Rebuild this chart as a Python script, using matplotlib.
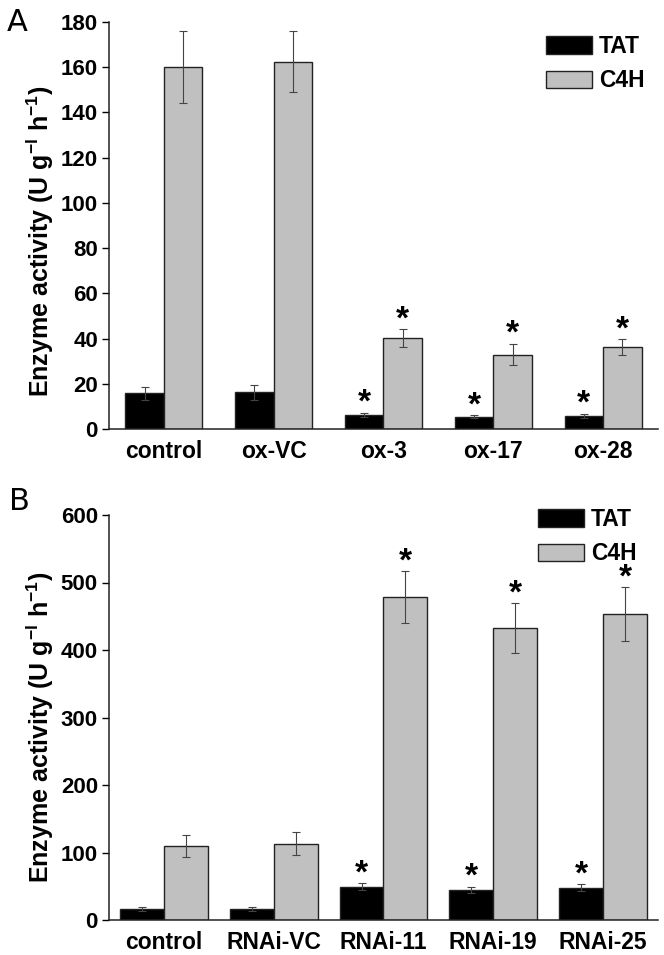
import matplotlib
matplotlib.use("Agg")
import matplotlib.pyplot as plt
import numpy as np

# ---------------------------------------------------------------------------
# Data
# ---------------------------------------------------------------------------
groups_a = ["control", "ox-VC", "ox-3", "ox-17", "ox-28"]
tat_a = [15.8, 16.2, 6.3, 5.5, 5.9]
tat_a_err = [2.9, 3.3, 0.9, 0.5, 0.9]
c4h_a = [160.2, 162.5, 40.1, 32.9, 36.4]
c4h_a_err = [16.0, 13.3, 4.0, 4.8, 3.5]
sig_a = [False, False, True, True, True]

groups_b = ["control", "RNAi-VC", "RNAi-11", "RNAi-19", "RNAi-25"]
tat_b = [15.8, 16.3, 49.4, 44.4, 47.9]
tat_b_err = [3.0, 3.0, 5.0, 5.0, 5.4]
c4h_b = [109.6, 113.0, 478.5, 432.6, 453.3]
c4h_b_err = [16.0, 17.0, 38.0, 37.0, 40.0]
sig_b = [False, False, True, True, True]

FONT = "Liberation Sans"
plt.rcParams["mathtext.fontset"] = "custom"
plt.rcParams["mathtext.rm"] = FONT
plt.rcParams["mathtext.bf"] = FONT + ":bold"

GRAY = "#c0c0c0"
EDGE = "#222222"
ERR = "#444444"
W, H = 664, 955   # figure size in px, used to place things like the reference


def draw_panel(fig, ax, groups, tat, tat_err, c4h, c4h_err, sig, width, ymax,
               step, letter, letter_xy, leg_xy, ylab_y):
    x = np.arange(len(groups))
    ax.bar(x - width / 2, tat, width, color="black", edgecolor=EDGE, lw=1.0,
           label="TAT", zorder=2)
    ax.bar(x + width / 2, c4h, width, color=GRAY, edgecolor=EDGE, lw=1.0,
           label="C4H", zorder=2)
    ax.errorbar(x - width / 2, tat, yerr=tat_err, fmt="none", ecolor=ERR,
                elinewidth=0.8, capsize=3, capthick=0.8, zorder=3)
    ax.errorbar(x + width / 2, c4h, yerr=c4h_err, fmt="none", ecolor=ERR,
                elinewidth=0.8, capsize=3, capthick=0.8, zorder=3)

    # significance stars above the error bars
    for i, s in enumerate(sig):
        if not s:
            continue
        for xx, top in ((x[i] - width / 2, tat[i] + tat_err[i]),
                        (x[i] + width / 2, c4h[i] + c4h_err[i])):
            ax.annotate("*", (xx, top), xytext=(0, 0.5), textcoords="offset points",
                        ha="center", va="baseline", fontsize=24,
                        fontweight="bold", family=FONT)

    ax.set_xlim(-0.5, len(groups) - 0.5)
    ax.set_ylim(0, ymax)
    ax.set_yticks(np.arange(0, ymax + 1, step))
    ax.set_xticks(x)
    ax.set_xticklabels(groups)
    for lab in ax.get_yticklabels():
        lab.set_family(FONT)
        lab.set_fontweight("bold")
        lab.set_fontsize(16)
    for lab in ax.get_xticklabels():
        lab.set_family(FONT)
        lab.set_fontweight("bold")
        lab.set_fontsize(16.5)
    ax.tick_params(axis="x", length=0, pad=8)
    ax.tick_params(axis="y", direction="out", length=5, width=1.0, pad=3)
    for sp in ("top", "right"):
        ax.spines[sp].set_visible(False)
    for sp in ("left", "bottom"):
        ax.spines[sp].set_linewidth(1.1)
        ax.spines[sp].set_color(EDGE)

    ax.set_ylabel(r"Enzyme activity (U g$^{\mathbf{-l}}$ h$^{\mathbf{-1}}$)",
                  fontsize=18, fontweight="bold", family=FONT)
    ax.yaxis.set_label_coords(-0.097, ylab_y)

    ax.legend(loc="upper left", frameon=False, handlelength=2.0,
              handleheight=0.78, handletextpad=0.3, labelspacing=0.5,
              borderpad=0, borderaxespad=0,
              prop={"family": FONT, "weight": "bold", "size": 16.5},
              bbox_to_anchor=leg_xy, bbox_transform=fig.transFigure)
    fig.text(letter_xy[0], letter_xy[1], letter, fontsize=22,
             family="DejaVu Sans", ha="left", va="baseline")


fig = plt.figure(figsize=(W / 100, H / 100), dpi=100)
ax_a = fig.add_axes([109 / W, 1 - 429 / H, 549 / W, 407 / H])
ax_b = fig.add_axes([109 / W, 1 - 920 / H, 549 / W, 405 / H])

draw_panel(fig, ax_a, groups_a, tat_a, tat_a_err, c4h_a, c4h_a_err, sig_a,
           0.35, 180, 20, "A", (7 / W, 1 - 31 / H), (546 / W, 1 - 35 / H), 0.46)
draw_panel(fig, ax_b, groups_b, tat_b, tat_b_err, c4h_b, c4h_b_err, sig_b,
           0.40, 600, 100, "B", (9 / W, 1 - 510 / H), (538 / W, 1 - 508 / H), 0.475)

fig.savefig("out.png", dpi=100)
